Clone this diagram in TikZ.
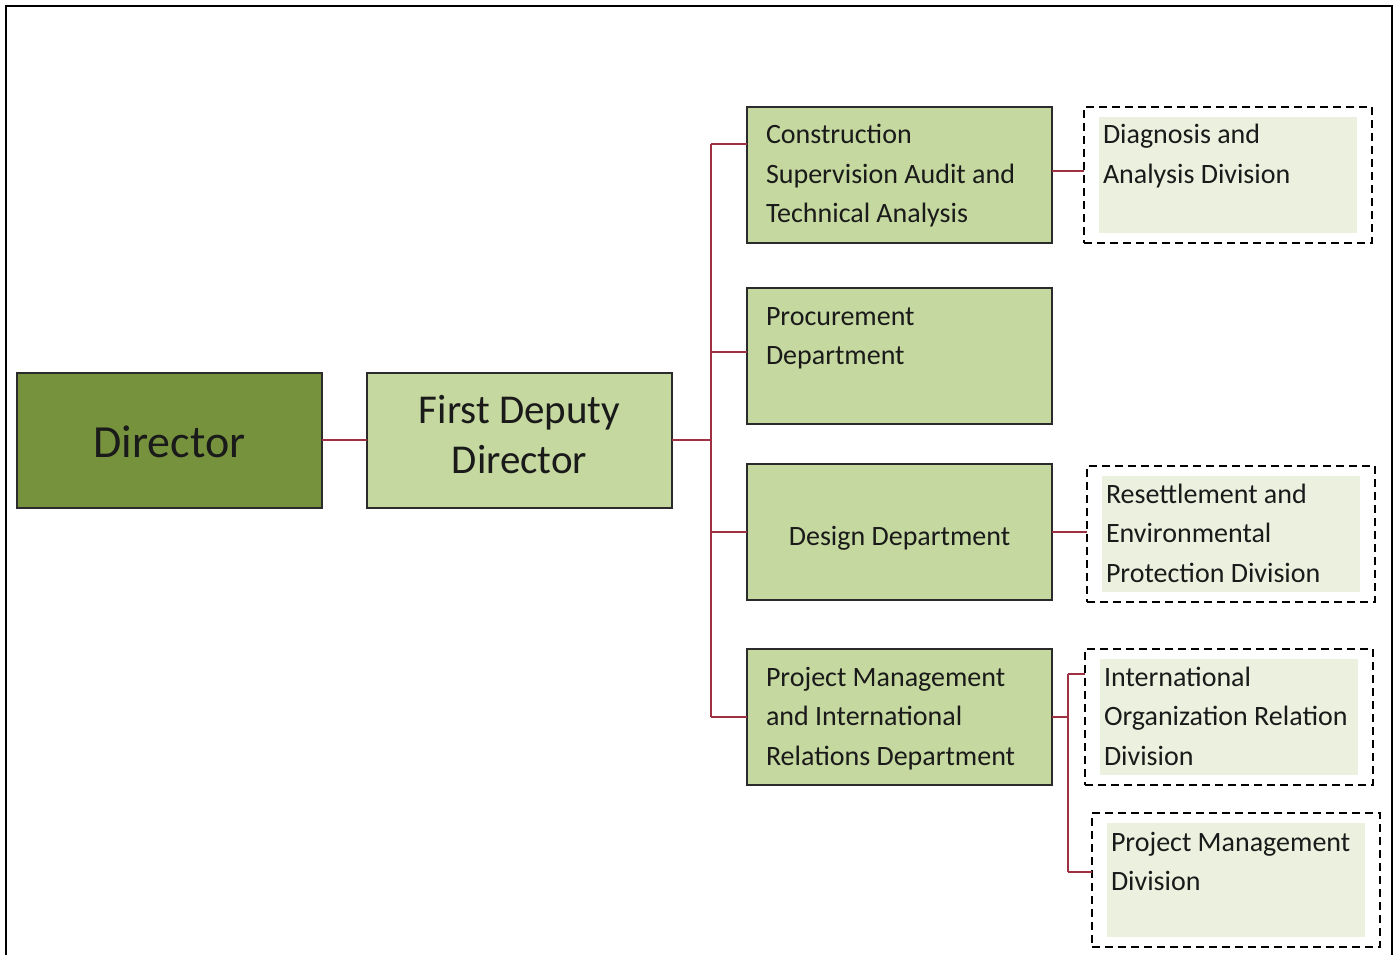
\documentclass[tikz,border=0pt]{standalone}
\usepackage{fontspec}
\setmainfont{Carlito}
\definecolor{dirfill}{HTML}{76923C}
\definecolor{deptfill}{HTML}{C5D89F}
\definecolor{divfill}{HTML}{EBF1DE}
\definecolor{linkred}{HTML}{9E3042}
\definecolor{boxline}{HTML}{2B2B2B}
\definecolor{ink}{HTML}{1A1A1A}
% text block: width, first-baseline offset from the top, lines
\newcommand\leftlines[3]{\parbox[t][136pt][t]{#1}{\fontsize{28}{39.5}\selectfont\rule{0pt}{#2}#3}}
\newcommand\midlines[4]{\parbox[t][135pt][t]{305pt}{\centering\fontsize{#1}{#2}\selectfont\rule{0pt}{#3}#4}}
\begin{document}
\begin{tikzpicture}[x=1pt,y=-1pt,
  every node/.style={inner sep=0pt, outer sep=0pt, anchor=north west, text=ink},
  topbox/.style={draw=boxline, line width=1.6pt, minimum width=305pt, minimum height=135pt},
  dept/.style={draw=boxline, line width=1.6pt, fill=deptfill, minimum width=305pt, minimum height=136pt},
  div/.style={draw=black, dash pattern=on 8pt off 5pt, line width=1.6pt, fill=white,
    minimum width=288pt, minimum height=136pt,
    path picture={\fill[divfill] ([shift={(15pt,-10pt)}]path picture bounding box.north west)
      rectangle ([shift={(-15pt,10pt)}]path picture bounding box.south east);}},
  conn/.style={draw=linkred, line width=2.6pt},
]
\useasboundingbox (0,0) rectangle (1398,955);

% outer frame, open at the bottom
\draw[line width=2.2pt, black] (6,955) -- (6,6) -- (1392,6) -- (1392,955);

% top of the hierarchy
\node[topbox, fill=dirfill] (dir) at (17,373) {\midlines{46}{55}{84pt}{Director}};
\node[topbox, fill=deptfill] (fdd) at (367,373) {\midlines{41}{50}{50pt}{First Deputy\\Director}};

% departments
\node[dept] (cst) at (747,107) {\leftlines{267pt}{37pt}{Construction\\Supervision Audit and\\Technical Analysis}};
\node[dept] (prc) at (747,288) {\leftlines{267pt}{37pt}{Procurement\\Department}};
\node[dept] (dsg) at (747,464) {\parbox[t][136pt][t]{267pt}{\centering\fontsize{28}{39.5}\selectfont\rule{0pt}{81pt}Design Department}};
\node[dept] (pmd) at (747,649) {\leftlines{267pt}{37pt}{Project Management\\and International\\Relations Department}};

% divisions
\node[div] (dgn) at (1084,107) {\leftlines{250pt}{37pt}{Diagnosis and\\Analysis Division}};
\node[div] (rst) at (1087,466) {\leftlines{250pt}{37pt}{Resettlement and\\Environmental\\Protection Division}};
\node[div] (ior) at (1085,649) {\leftlines{250pt}{37pt}{International\\Organization Relation\\Division}};
\node[div, minimum height=134pt] (pmv) at (1092,813) {\parbox[t][134pt][t]{250pt}{\fontsize{28}{39.5}\selectfont\rule{0pt}{38pt}Project Management\\Division}};

% connector junctions
\coordinate (trunk) at (711,440);
\coordinate (tTop) at (711,144);
\coordinate (tPrc) at (711,352);
\coordinate (tDsg) at (711,532);
\coordinate (tBot) at (711,717);
\coordinate (sTop) at (1068,674);
\coordinate (sMid) at (1068,717);
\coordinate (sBot) at (1068,872);

% connectors
\draw[conn] (dir.east |- trunk) -- (fdd.west |- trunk);
\draw[conn] (fdd.east |- trunk) -- (trunk);
\draw[conn] (tTop) -- (tBot);
\draw[conn] (tTop) -- (tTop -| cst.west);
\draw[conn] (tPrc) -- (tPrc -| prc.west);
\draw[conn] (tDsg) -- (tDsg -| dsg.west);
\draw[conn] (tBot) -- (tBot -| pmd.west);
\draw[conn] ([yshift=-64pt]cst.north east) -- ([yshift=-64pt]dgn.north west);
\draw[conn] (dsg.east) -- (dsg.east -| rst.west);
\draw[conn] (pmd.east |- sMid) -- (sMid);
\draw[conn] (sTop) -- (sBot);
\draw[conn] (sTop) -- (sTop -| ior.west);
\draw[conn] (sBot) -- (sBot -| pmv.west);
\end{tikzpicture}
\end{document}
